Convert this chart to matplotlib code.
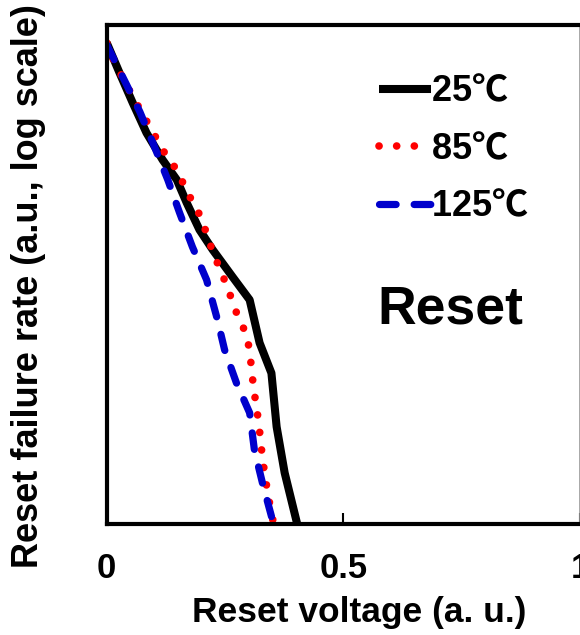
import matplotlib
matplotlib.use("Agg")
import matplotlib.pyplot as plt

plt.rcParams['font.family'] = ['Liberation Sans', 'Noto Sans CJK SC', 'DejaVu Sans']
plt.rcParams['font.weight'] = 'bold'
# thin degree-Celsius sign, like the original
plt.rcParams['mathtext.fontset'] = 'custom'
plt.rcParams['mathtext.rm'] = 'Noto Sans CJK SC:weight=normal'

# 25 C
v_25 = [0, 0.027, 0.055, 0.084, 0.118, 0.148, 0.169, 0.196, 0.224, 0.266,
        0.302, 0.323, 0.348, 0.359, 0.376, 0.403]
r_25 = [0.608, 0.265, 0.115, 0.0502, 0.0238, 0.0137, 7.24e-3, 3.43e-3, 1.97e-3, 9.3e-4,
        4.93e-4, 1.50e-4, 6.5e-5, 1.47e-5, 4.1e-6, 9.7e-7]

# 85 C
v_85 = [0, 0.017, 0.053, 0.091, 0.127, 0.148, 0.165, 0.181, 0.200, 0.211, 0.224,
        0.238, 0.253, 0.266, 0.278, 0.295, 0.302, 0.310, 0.321, 0.329, 0.340, 0.353]
r_85 = [0.608, 0.349, 0.144, 0.0594, 0.0259, 0.0181, 0.0113, 7.45e-3, 4.78e-3, 3.07e-3, 1.87e-3,
        1.20e-3, 7.48e-4, 4.67e-4, 3.00e-4, 1.93e-4, 1.20e-4, 4.44e-5, 1.68e-5, 6.2e-6, 2.36e-6, 9.7e-7]

# 125 C
v_125 = [0, 0.042, 0.070, 0.101, 0.129, 0.154, 0.181, 0.211, 0.234, 0.249,
         0.274, 0.302, 0.312, 0.329, 0.353]
r_125 = [0.575, 0.190, 0.0899, 0.0341, 0.0137, 5.48e-3, 2.14e-3, 8.59e-4, 2.84e-4, 1.24e-4,
         4.96e-5, 2.16e-5, 7.76e-6, 3.11e-6, 9.7e-7]

labels = ['25$\\mathrm{℃}$', '85$\\mathrm{℃}$', '125$\\mathrm{℃}$']
xticks = [0, 0.5, 1]
xticklabels = ['0', '0.5', '1']

fig = plt.figure(figsize=(5.8, 6.35), dpi=100)
ax = fig.add_axes([0.184, 0.175, 0.816, 0.786])

ax.plot(v_25, r_25, color='black', lw=5.8, solid_capstyle='butt', label=labels[0])
ax.plot(v_85, r_85, color='#ff0000', lw=5.5, linestyle=(0, (0.01, 2.3)),
        dash_capstyle='round', label=labels[1])
ax.plot(v_125, r_125, color='#0000cc', lw=5.2, linestyle=(0, (2.3, 2.5)),
        dash_capstyle='round', label=labels[2])

ax.set_yscale('log')
ax.set_ylim(1e-6, 1)
ax.set_xlim(0, 1)

ax.set_xticks(xticks)
ax.set_xticklabels(xticklabels)
ax.tick_params(axis='x', direction='in', length=8, width=1.5, pad=20, labelsize=25)
ax.set_yticks([])
ax.yaxis.set_minor_locator(matplotlib.ticker.NullLocator())

for side in ['left', 'bottom', 'top']:
    ax.spines[side].set_linewidth(3)
ax.spines['right'].set_linewidth(1.2)
ax.spines['right'].set_color('#999999')

ax.set_xlabel('Reset voltage (a. u.)', fontsize=25.5, fontweight='bold')
ax.xaxis.set_label_coords(0.534, -0.145)
ax.set_ylabel('Reset failure rate (a.u., log scale)', fontsize=26, fontweight='bold')
ax.yaxis.set_label_coords(-0.128, 0.476)

ax.text(0.726, 0.43, 'Reset', transform=ax.transAxes, fontsize=38.5,
        fontweight='bold', ha='center', va='center')

leg = ax.legend(loc='upper left', bbox_to_anchor=(0.576, 0.90), frameon=False,
                prop={'size': 26, 'weight': 'bold'}, handlelength=1.44,
                handletextpad=0.0, labelspacing=0.62, borderpad=0, borderaxespad=0)

plt.savefig('out.png', dpi=100)
